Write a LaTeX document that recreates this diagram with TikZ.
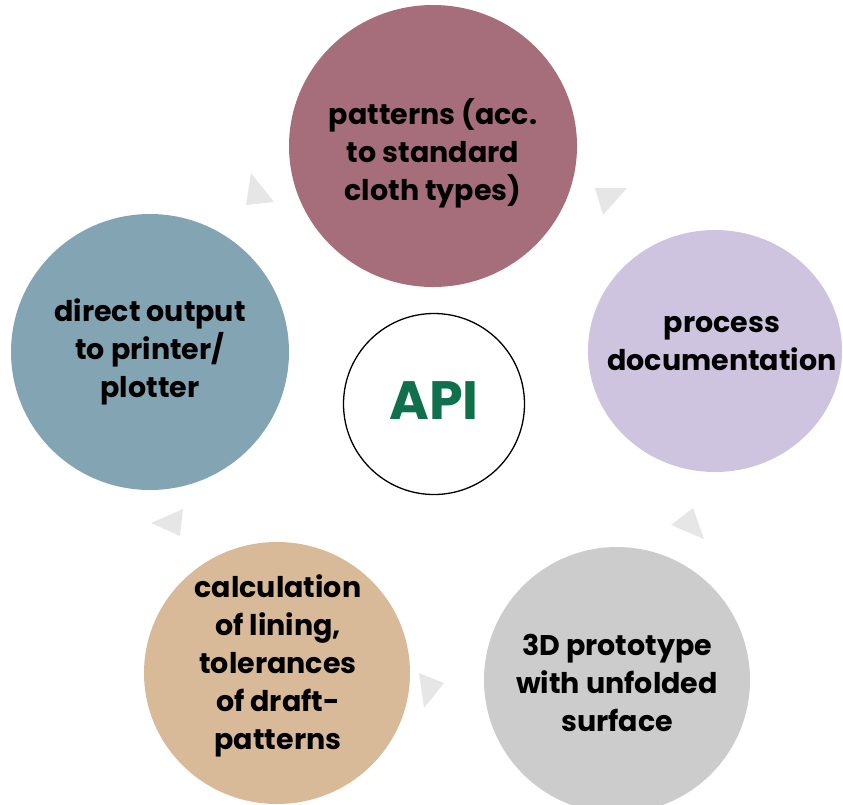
\documentclass[tikz,border=0pt]{standalone}
\usepackage{fontspec}
\setmainfont{Poppins}
\definecolor{cTop}{HTML}{A66D7A}
\definecolor{cRight}{HTML}{CFC4E0}
\definecolor{cLeft}{HTML}{83A4B3}
\definecolor{cBL}{HTML}{D8B998}
\definecolor{cBR}{HTML}{CCCCCC}
\definecolor{cApi}{HTML}{10704C}
\definecolor{cTri}{HTML}{E6E6E6}
\tikzset{
  bubble/.style={ellipse, inner sep=0pt, draw=none},
  lbl/.style={align=center, font=\fontsize{28.5}{38}\selectfont\bfseries, text=black},
  tri/.style={fill=cTri, draw=none}
}
\begin{document}
\begin{tikzpicture}[x=1pt,y=-1pt]
\useasboundingbox (0,0) rectangle (843,804);
\fill[cTop] (433,146) ellipse [x radius=144, y radius=141];
\fill[cRight] (715,351) ellipse [x radius=127, y radius=121];
\fill[cLeft] (150,352) ellipse [x radius=139, y radius=138];
\fill[cBL] (277,673) ellipse [x radius=133, y radius=131];
\fill[cBR] (617,680) ellipse [x radius=133, y radius=133];
\node[circle, draw=black, line width=1.3pt, minimum size=181pt, inner sep=0pt] (api) at (434,404) {};
\node[text=cApi, font=\fontsize{54}{60}\selectfont\bfseries] (apit) at (434,401) {API};
\node[lbl] (ntop) at (433,153) {patterns (acc.\\to standard\\cloth types)};
\node[lbl] (nright) at (722,344) {process\\documentation};
\node[lbl] (nleft) at (150,352) {direct output\\to printer/\\plotter};
\node[lbl] (nbl) at (278,666) {calculation\\of lining,\\tolerances\\of draft-\\patterns};
\node[lbl] (nbr) at (617,683) {3D prototype\\with unfolded\\surface};
\fill[tri] (251,173) -- (246,205) -- (274,202) -- cycle;
\fill[tri] (595,188) -- (627,188) -- (603,215) -- cycle;
\fill[tri] (693,508) -- (671,525) -- (704,539) -- cycle;
\fill[tri] (419,673) -- (444,683) -- (424,708) -- cycle;
\fill[tri] (183,509) -- (151,523) -- (180,536) -- cycle;
\end{tikzpicture}
\end{document}
